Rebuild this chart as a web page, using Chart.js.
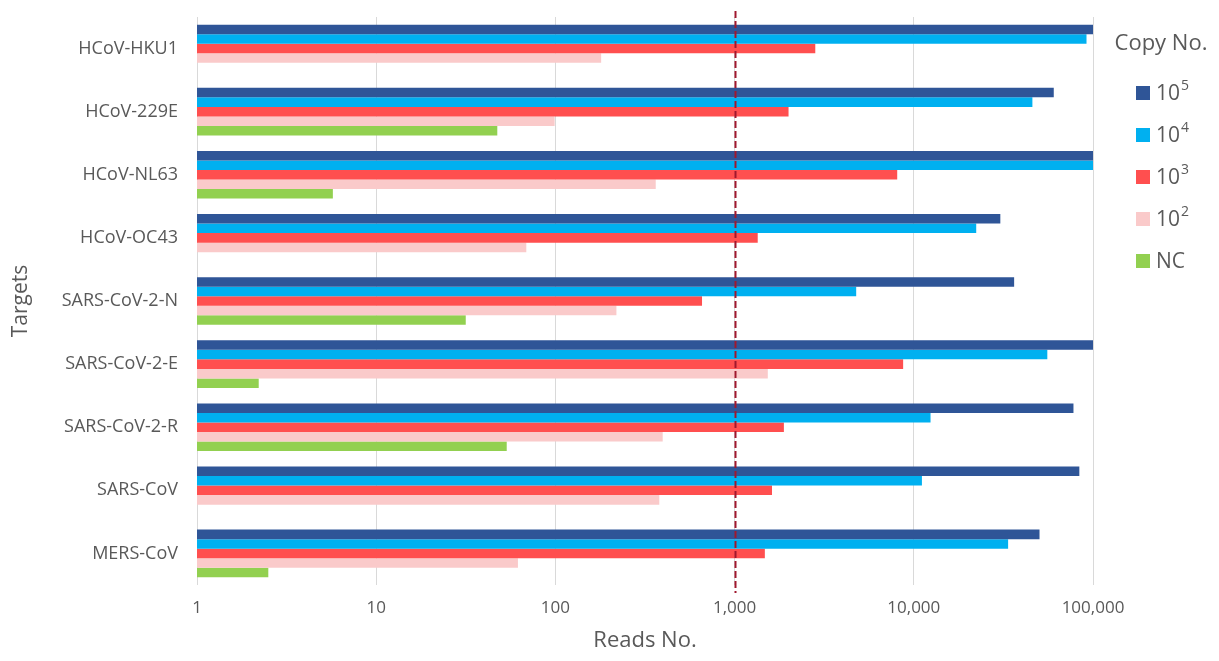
<!DOCTYPE html>
<html>
<head>
<meta charset="utf-8">
<script src="https://cdn.jsdelivr.net/npm/chart.js@4/dist/chart.umd.min.js"></script>
<style>
  html, body { margin: 0; padding: 0; background: #ffffff; }
  #wrap { width: 1219px; height: 661px; }
</style>
</head>
<body>
<div id="wrap"><canvas id="c" width="1219" height="661"></canvas></div>
<script>
const categories = ["HCoV-HKU1", "HCoV-229E", "HCoV-NL63", "HCoV-OC43", "SARS-CoV-2-N", "SARS-CoV-2-E", "SARS-CoV-2-R", "SARS-CoV", "MERS-CoV"];
const seriesNames = ["10⁵", "10⁴", "10³", "10²", "NC"];
const copy1e5 = [100000, 60400, 100000, 30400, 36300, 100000, 77800, 83900, 50300];
const copy1e4 = [92000, 45900, 100000, 22300, 4770, 55600, 12400, 11100, 33600];
const copy1e3 = [2820, 2000, 8080, 1346, 658, 8720, 1884, 1617, 1475];
const copy1e2 = [180, 99, 363, 68.8, 219, 1532, 397, 380, 61.8];
const copyNC  = [null, 47.4, 5.73, null, 31.6, 2.21, 53.5, null, 2.50];
const xTickValues = [1, 10, 100, 1000, 10000, 100000];
const thresholdValue = 1000;
const xTitle = "Reads No.";
const yTitle = "Targets";
const legendTitle = "Copy No.";

const seriesValues = [copy1e5, copy1e4, copy1e3, copy1e2, copyNC];
const colors = ["#2F5597", "#00B0F0", "#FF4F4F", "#FACACA", "#92D050"];
const FONT = "'Open Sans', 'Noto Sans', sans-serif";
const TEXT = "#595959";

const thresholdLine = {
  id: "thresholdLine",
  afterDatasetsDraw(chart) {
    const x = chart.scales.x.getPixelForValue(thresholdValue);
    const { top, bottom } = chart.chartArea;
    const ctx = chart.ctx;
    ctx.save();
    ctx.strokeStyle = "#A0182E";
    ctx.lineWidth = 2;
    ctx.setLineDash([7, 3]);
    ctx.beginPath();
    ctx.moveTo(Math.round(x) + 0.5, top - 6);
    ctx.lineTo(Math.round(x) + 0.5, bottom + 8);
    ctx.stroke();
    ctx.restore();
  }
};

const supMap = { "⁰": "0", "¹": "1", "²": "2", "³": "3", "⁴": "4", "⁵": "5", "⁶": "6", "⁷": "7", "⁸": "8", "⁹": "9" };
const sideLegend = {
  id: "sideLegend",
  afterDraw(chart) {
    const ctx = chart.ctx;
    ctx.save();
    ctx.fillStyle = TEXT;
    ctx.font = "22px " + FONT;
    ctx.textAlign = "center";
    ctx.textBaseline = "middle";
    ctx.fillText(legendTitle, 1161, 44);
    chart.data.datasets.forEach((ds, i) => {
      const cy = 93 + i * 42;
      ctx.fillStyle = ds.backgroundColor;
      ctx.fillRect(1136, cy - 7, 14, 14);
      const label = ds.label;
      let base = "", sup = "";
      for (const ch of label) { if (supMap[ch]) sup += supMap[ch]; else base += ch; }
      ctx.fillStyle = TEXT;
      ctx.textAlign = "left";
      ctx.textBaseline = "middle";
      ctx.font = "21px " + FONT;
      ctx.fillText(base, 1156, cy + 1);
      if (sup) {
        const w = ctx.measureText(base).width;
        ctx.font = "14px " + FONT;
        ctx.fillText(sup, 1156 + w + 1, cy - 7);
      }
    });
    ctx.restore();
  }
};

new Chart(document.getElementById("c"), {
  type: "bar",
  data: {
    labels: categories,
    datasets: seriesNames.map((name, i) => ({
      label: name,
      data: seriesValues[i],
      backgroundColor: colors[i],
      borderWidth: 0,
      categoryPercentage: 0.755,
      barPercentage: 1.0
    }))
  },
  options: {
    indexAxis: "y",
    responsive: false,
    animation: false,
    layout: { padding: { top: 17, right: 126, left: 0, bottom: 0 } },
    plugins: {
      legend: { display: false },
      tooltip: { enabled: false }
    },
    scales: {
      x: {
        type: "logarithmic",
        min: 1,
        max: 100000,
        afterBuildTicks: (scale) => { scale.ticks = xTickValues.map(v => ({ value: v })); },
        afterFit: (scale) => { scale.height = 76; },
        ticks: {
          color: TEXT,
          font: { family: FONT, size: 17 },
          padding: 13,
          maxRotation: 0,
          autoSkip: false,
          callback: (v) => Number(v).toLocaleString("en-US")
        },
        grid: { color: "#D9D9D9", lineWidth: 1, drawTicks: false },
        border: { display: false },
        title: {
          display: true,
          text: xTitle,
          color: TEXT,
          font: { family: FONT, size: 22 },
          padding: { top: 0, bottom: 7 }
        }
      },
      y: {
        afterFit: (scale) => { scale.width = 197; scale.paddingTop = 0; scale.paddingBottom = 0; },
        ticks: {
          color: TEXT,
          font: { family: FONT, size: 18 },
          padding: 19
        },
        grid: { display: false, drawTicks: false },
        border: { display: false },
        title: {
          display: true,
          text: yTitle,
          color: TEXT,
          font: { family: FONT, size: 21 },
          padding: { top: 8, bottom: 0 }
        }
      }
    }
  },
  plugins: [thresholdLine, sideLegend]
});
</script>
</body>
</html>
